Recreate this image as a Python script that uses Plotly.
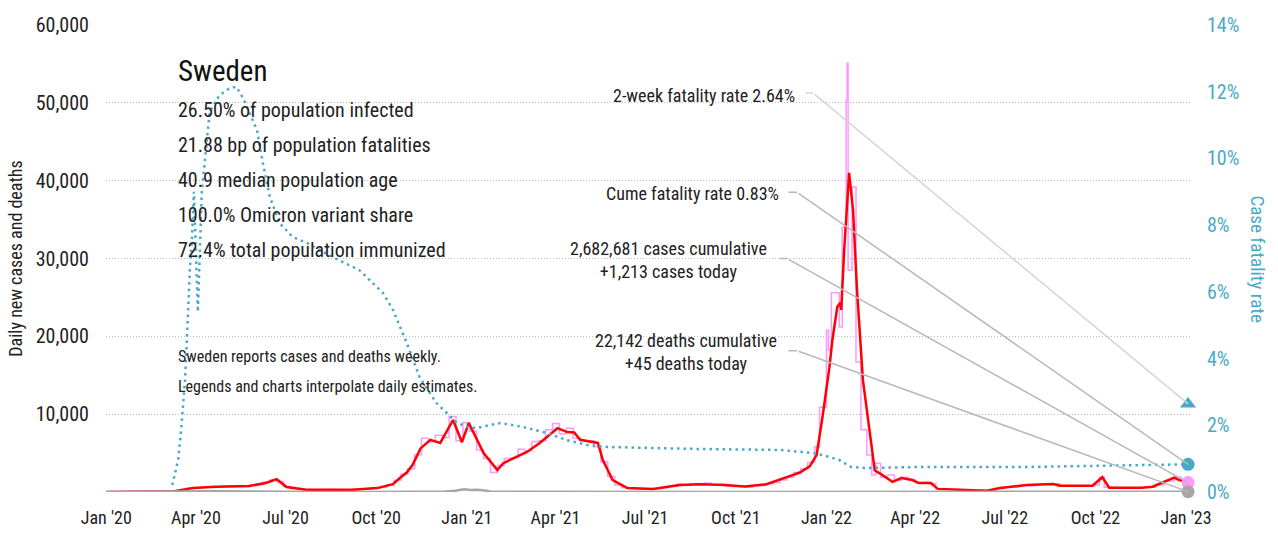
import pandas as pd
import plotly.graph_objects as go

FONT = "Roboto Condensed, Roboto, sans-serif"
TEAL = "#4aaac6"
PINK = "#ff99ff"
RED = "#ff0000"
GREY = "#a6a6a6"

# ---- data -----------------------------------------------------------------
# 7-day average of new cases
avg_dates = [
    "2020-01-01", "2020-02-25", "2020-03-10", "2020-03-29", "2020-04-22", "2020-05-25",
    "2020-06-11", "2020-06-22", "2020-07-02", "2020-07-22", "2020-08-17", "2020-09-07",
    "2020-10-02", "2020-10-18", "2020-10-25", "2020-11-01", "2020-11-07", "2020-11-15",
    "2020-11-25", "2020-12-05", "2020-12-18", "2020-12-27", "2021-01-03", "2021-01-18",
    "2021-02-01", "2021-02-07", "2021-03-03", "2021-03-16", "2021-04-03", "2021-04-13",
    "2021-04-20", "2021-04-26", "2021-05-14", "2021-05-19", "2021-05-29", "2021-06-13",
    "2021-07-09", "2021-08-05", "2021-08-26", "2021-09-20", "2021-10-10", "2021-11-01",
    "2021-11-24", "2021-12-05", "2021-12-15", "2021-12-22", "2021-12-28", "2022-01-04",
    "2022-01-07", "2022-01-12", "2022-01-15", "2022-01-16", "2022-01-19", "2022-01-24",
    "2022-01-28", "2022-02-01", "2022-02-07", "2022-02-14", "2022-02-19", "2022-02-24",
    "2022-03-09", "2022-03-18", "2022-03-29", "2022-04-05", "2022-04-17", "2022-04-24",
    "2022-05-16", "2022-06-13", "2022-06-26", "2022-07-23", "2022-08-19", "2022-08-26",
    "2022-09-28", "2022-10-08", "2022-10-15", "2022-11-17", "2022-11-28", "2022-12-08",
    "2022-12-20", "2022-12-25", "2023-01-03",
]
avg_cases = [
    0, 5, 100, 510, 680, 770,
    1150, 1650, 640, 280, 300, 300,
    500, 1000, 1800, 2500, 3500, 5600,
    6700, 6300, 9250, 6400, 8870, 5000,
    2830, 3700, 5140, 6300, 8200, 7700,
    7650, 6700, 6300, 4100, 1540, 500,
    400, 900, 1000, 900, 700, 1000,
    2000, 2500, 3300, 4750, 9640, 16000,
    19500, 23800, 24300, 23400, 31100, 41000,
    36200, 26000, 14400, 7600, 2800, 2400,
    1300, 1800, 1540, 1150, 1150, 400,
    260, 170, 510, 900, 1030, 800,
    800, 1900, 550, 550, 680, 1200,
    1840, 1540, 1280,
]

# daily estimates from weekly reports (weekly steps, Mondays from 2020-03-02)
weekly_cases = [
    30, 150, 300, 480, 560,
    620, 720, 640, 740,
    700, 800, 720, 880,
    950, 1300, 1550, 1350, 700,
    450, 320, 260, 300,
    280, 320, 290, 300, 280,
    320, 380, 430, 520,
    650, 900, 1500, 2300,
    3000, 4800, 6900, 6500, 7300,
    7000, 9700, 6600, 8900,
    7800, 5400, 4300, 2500,
    3400, 4300, 4400, 5500,
    5300, 6500, 6600, 8000, 8800,
    7500, 8200, 6900, 6600,
    6600, 5800, 3900, 2000, 900,
    550, 450, 430, 400,
    380, 460, 580, 750,
    1000, 880, 1100, 950, 1150,
    900, 1000, 800, 700,
    720, 620, 800, 850,
    1050, 1200, 1550, 1900, 2500,
    3000, 3800, 5800,
]
weekly_start = "2020-03-02"

late_dates = [
    "2021-12-25", "2022-01-01", "2022-01-03", "2022-01-06", "2022-01-14", "2022-01-17",
    "2022-01-21", "2022-01-22", "2022-01-23", "2022-01-27", "2022-01-31", "2022-02-05",
    "2022-02-11", "2022-02-16", "2022-02-20", "2022-02-25", "2022-03-04", "2022-03-11",
    "2022-03-18", "2022-03-25", "2022-04-01", "2022-04-08", "2022-04-15", "2022-04-22",
    "2022-05-01", "2022-05-15", "2022-06-01", "2022-06-15", "2022-06-22", "2022-07-01",
    "2022-07-15", "2022-08-01", "2022-08-15", "2022-08-26", "2022-09-15", "2022-10-01",
    "2022-10-05", "2022-10-10", "2022-10-20", "2022-11-20", "2022-12-01", "2022-12-10",
    "2022-12-20", "2022-12-27", "2023-01-03",
]
late_cases = [
    10900, 20800, 18200, 25600, 21200, 34000,
    50400, 55100, 28500, 39200, 16700, 8000,
    4750, 2200, 3700, 1900, 2200, 1500,
    1900, 1600, 1200, 1250, 1100, 450,
    350, 260, 200, 200, 450, 620,
    800, 950, 1050, 800, 800, 900,
    1900, 600, 550, 600, 900, 1400,
    1900, 1500, 1213,
]

# daily deaths
death_dates = [
    "2020-01-01", "2020-03-10", "2020-03-25", "2020-04-10", "2020-04-20", "2020-05-10",
    "2020-06-01", "2020-06-20", "2020-07-10", "2020-08-01", "2020-10-01", "2020-11-01",
    "2020-11-20", "2020-12-10", "2020-12-20", "2020-12-29", "2021-01-05", "2021-01-12",
    "2021-01-19", "2021-01-25", "2021-02-15", "2021-03-15", "2021-04-15", "2021-05-15",
    "2021-06-15", "2021-09-01", "2021-11-01", "2021-12-15", "2022-01-20", "2022-02-10",
    "2022-03-01", "2022-04-01", "2022-06-01", "2022-08-01", "2022-10-01", "2022-11-15",
    "2022-12-15", "2023-01-03",
]
deaths = [
    0, 0, 20, 90, 100, 70,
    50, 30, 15, 5, 3, 15,
    50, 80, 150, 350, 250, 300,
    200, 60, 30, 15, 15, 10,
    3, 5, 3, 10, 30, 50,
    40, 20, 8, 10, 15, 10,
    25, 45,
]

# case fatality rate
cfr_dates = [
    "2020-03-08", "2020-03-14", "2020-03-17", "2020-03-21", "2020-03-24", "2020-03-26",
    "2020-03-28", "2020-03-30", "2020-04-03", "2020-04-07", "2020-04-15", "2020-04-25",
    "2020-05-05", "2020-05-12", "2020-05-19", "2020-06-02", "2020-06-08", "2020-06-15",
    "2020-06-25", "2020-07-08", "2020-07-23", "2020-08-18", "2020-09-14", "2020-10-08",
    "2020-10-18", "2020-11-01", "2020-11-14", "2020-12-01", "2020-12-22", "2021-01-04",
    "2021-01-11", "2021-02-04", "2021-02-27", "2021-03-23", "2021-04-12", "2021-05-03",
    "2021-05-23", "2021-07-03", "2021-08-23", "2021-11-15", "2021-12-18", "2021-12-28",
    "2022-01-14", "2022-01-26", "2022-02-10", "2022-04-05", "2022-07-23", "2023-01-03",
]
cfr = [
    0.0021, 0.0096, 0.0186, 0.0336, 0.0537, 0.0675,
    0.0760, 0.0900, 0.0540, 0.0900, 0.1140, 0.1190,
    0.1210, 0.1215, 0.1180, 0.1085, 0.0986, 0.0885,
    0.0806, 0.0765, 0.0746, 0.0704, 0.0665, 0.0596,
    0.0546, 0.0447, 0.0345, 0.0267, 0.0207, 0.0193,
    0.0192, 0.0207, 0.0195, 0.0177, 0.0156, 0.0141,
    0.0135, 0.0132, 0.0129, 0.0126, 0.0117, 0.0111,
    0.0096, 0.0075, 0.0072, 0.0075, 0.0075, 0.0083,
]

last_date = "2023-01-03"
two_week_cfr = 0.0264
cume_cfr = 0.0083
cases_today = 1213
deaths_today = 45

country = "Sweden"
stats_lines = [
    "26.50% of population infected",
    "21.88 bp of population fatalities",
    "40.9 median population age",
    "100.0% Omicron variant share",
    "72.4% total population immunized",
]
note_lines = [
    "Sweden reports cases and deaths weekly.",
    "Legends and charts interpolate daily estimates.",
]
callouts = [
    "2-week fatality rate 2.64%",
    "Cume fatality rate 0.83%",
    "2,682,681 cases cumulative<br>+1,213 cases today",
    "22,142 deaths cumulative<br>+45 deaths today",
]

# ---- figure ---------------------------------------------------------------
weekly_dates = pd.date_range(weekly_start, periods=len(weekly_cases), freq="7D")
raw_x = [pd.Timestamp("2020-01-01")] + list(weekly_dates) + [pd.Timestamp(d) for d in late_dates]
raw_y = [0] + weekly_cases + late_cases

fig = go.Figure()
fig.add_trace(go.Scatter(x=raw_x, y=raw_y, mode="lines", line=dict(color=PINK, width=1.5, shape="hv"),
                         hoverinfo="skip"))
fig.add_trace(go.Scatter(x=avg_dates, y=avg_cases, mode="lines", line=dict(color=RED, width=2.5),
                         hoverinfo="skip"))
fig.add_trace(go.Scatter(x=death_dates, y=deaths, mode="lines", line=dict(color=GREY, width=2.5),
                         hoverinfo="skip"))
fig.add_trace(go.Scatter(x=cfr_dates, y=cfr, mode="lines", yaxis="y2",
                         line=dict(color=TEAL, width=2.5, dash="2.5px,4px"), hoverinfo="skip"))

# end-of-series markers
fig.add_trace(go.Scatter(x=[last_date], y=[two_week_cfr], yaxis="y2", mode="markers", cliponaxis=False,
                         marker=dict(symbol="triangle-up", size=14, color=TEAL)))
fig.add_trace(go.Scatter(x=[last_date], y=[cume_cfr], yaxis="y2", mode="markers", cliponaxis=False,
                         marker=dict(symbol="circle", size=13, color=TEAL)))
fig.add_trace(go.Scatter(x=[last_date], y=[cases_today], mode="markers", cliponaxis=False,
                         marker=dict(symbol="circle", size=13, color=PINK)))
fig.add_trace(go.Scatter(x=[last_date], y=[deaths_today], mode="markers", cliponaxis=False,
                         marker=dict(symbol="circle", size=13, color=GREY)))

annotations = []

# headline block
annotations.append(dict(text=country, x=0.0646, y=0.9015, xref="paper", yref="paper",
                        xanchor="left", yanchor="middle", showarrow=False,
                        font=dict(family=FONT, size=29, color="#111")))
for i, line in enumerate(stats_lines):
    annotations.append(dict(text=line, x=0.0646, y=0.818 - i * 0.075, xref="paper", yref="paper",
                            xanchor="left", yanchor="middle", showarrow=False,
                            font=dict(family=FONT, size=20, color="#222")))
for i, line in enumerate(note_lines):
    annotations.append(dict(text=line, x=0.0646, y=0.291 - i * 0.066, xref="paper", yref="paper",
                            xanchor="left", yanchor="middle", showarrow=False,
                            font=dict(family=FONT, size=16, color="#222")))

# callout labels
callout_pos = [
    (0.6375, 0.850, "right"),
    (0.6227, 0.640, "right"),
    (0.5185, 0.497, "center"),
    (0.5350, 0.300, "center"),
]
for text, (px, py, anchor) in zip(callouts, callout_pos):
    annotations.append(dict(text=text, x=px, y=py, xref="paper", yref="paper", xanchor=anchor,
                            yanchor="middle", align="center", showarrow=False,
                            font=dict(family=FONT, size=18, color="#222")))

# leader lines: diagonal from the end marker to an elbow, then a short horizontal stub
leaders = [
    ("y2", two_week_cfr, -375, -311, 9, "#d6d6d6"),
    ("y2", cume_cfr, -391, -272, 10, "#b8b8b8"),
    ("y", cases_today, -401, -224, 9, "#b8b8b8"),
    ("y", deaths_today, -391, -141, 10, "#b8b8b8"),
]
for yref, val, ax, ay, stub, color in leaders:
    annotations.append(dict(text="", x=last_date, y=val, xref="x", yref=yref, showarrow=True,
                            arrowhead=0, arrowwidth=1.5, arrowcolor=color, ax=ax, ay=ay, standoff=0))
    annotations.append(dict(text="", x=last_date, y=val, xref="x", yref=yref, showarrow=True,
                            arrowhead=0, arrowwidth=1.5, arrowcolor=color, ax=-stub, ay=0,
                            xshift=ax, yshift=-ay, standoff=0))

# right axis title
annotations.append(dict(text="Case fatality rate", x=1.0, y=0.5, xref="paper", yref="paper",
                        xanchor="center", yanchor="middle", xshift=67, textangle=90, showarrow=False,
                        font=dict(family=FONT, size=19, color=TEAL)))

fig.update_layout(
    width=1278, height=540,
    margin=dict(l=106, r=88, t=25, b=48),
    paper_bgcolor="white", plot_bgcolor="white",
    showlegend=False,
    font=dict(family=FONT, size=17, color="#222"),
    xaxis=dict(
        type="date", range=["2019-12-31 18:00", "2023-01-05"],
        tick0="2020-01-01", dtick="M3", tickformat="%b '%y",
        showgrid=False, zeroline=False, showline=False, ticks="",
        ticklabelstandoff=13, tickfont=dict(family=FONT, size=18, color="#222"),
    ),
    yaxis=dict(
        range=[0, 60000], tickvals=[10000, 20000, 30000, 40000, 50000, 60000],
        tickformat=",", showgrid=True, gridcolor="#bdbdbd", griddash="1px,2px", gridwidth=1,
        zeroline=False, showline=False, ticks="", ticklabelstandoff=16,
        tickfont=dict(family=FONT, size=20, color="#222"),
        title=dict(text="Daily new cases and deaths", standoff=8,
                   font=dict(family=FONT, size=18, color="#222")),
    ),
    yaxis2=dict(
        overlaying="y", side="right", range=[0, 0.14], dtick=0.02, tickformat=".0%",
        showgrid=False, zeroline=False, showline=False, ticks="", ticklabelstandoff=16,
        tickfont=dict(family=FONT, size=20, color=TEAL),
    ),
    annotations=annotations,
)

fig.write_html("out.html")
